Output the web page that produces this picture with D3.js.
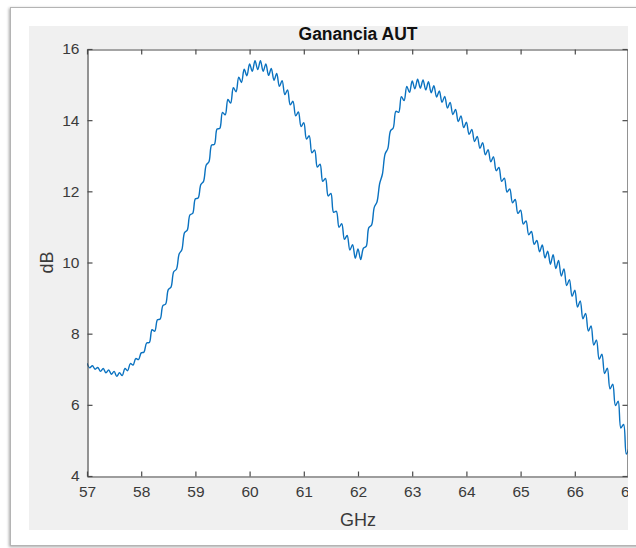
<!DOCTYPE html>
<html>
<head>
<meta charset="utf-8">
<script src="https://cdn.jsdelivr.net/npm/d3@7/dist/d3.min.js"></script>
<style>
  html, body { margin: 0; padding: 0; background: #ffffff; }
  svg { display: block; font-family: "Liberation Sans", Arial, Helvetica, sans-serif; }
</style>
</head>
<body>
<svg id="chart" width="636" height="548"></svg>
<script>
// Measured gain of the antenna under test, sampled every 0.05 GHz from 57 to 67 GHz
const freqStart = 57;
const freqStep = 0.05;
const gainDb = [
  7.17, 7.04, 7.10, 7.00, 7.05, 6.94, 7.02, 6.90, 6.98, 6.86,
  6.94, 6.80, 6.90, 6.82, 7.02, 6.96, 7.16, 7.12, 7.30, 7.27,
  7.46, 7.48, 7.74, 7.75, 8.11, 8.07, 8.39, 8.41, 8.79, 8.83,
  9.24, 9.31, 9.74, 9.81, 10.24, 10.36, 10.84, 10.91, 11.34, 11.38,
  11.79, 11.81, 12.19, 12.28, 12.74, 12.83, 13.30, 13.32, 13.75, 13.77,
  14.22, 14.15, 14.58, 14.48, 14.91, 14.80, 15.21, 15.06, 15.43, 15.25,
  15.58, 15.37, 15.67, 15.42, 15.67, 15.37, 15.58, 15.26, 15.45, 15.12,
  15.31, 14.95, 15.11, 14.72, 14.85, 14.43, 14.53, 14.12, 14.23, 13.82,
  13.93, 13.47, 13.56, 13.08, 13.16, 12.68, 12.76, 12.28, 12.36, 11.87,
  11.94, 11.41, 11.44, 10.99, 11.09, 10.65, 10.76, 10.35, 10.50, 10.12,
  10.38, 10.08, 10.40, 10.45, 10.98, 11.05, 11.55, 11.70, 12.22, 12.48,
  13.05, 13.20, 13.70, 13.78, 14.25, 14.22, 14.66, 14.55, 14.95, 14.78,
  15.10, 14.88, 15.15, 14.90, 15.13, 14.85, 15.08, 14.77, 14.97, 14.65,
  14.82, 14.50, 14.67, 14.34, 14.50, 14.16, 14.30, 13.96, 14.12, 13.79,
  13.94, 13.60, 13.74, 13.40, 13.54, 13.21, 13.37, 13.03, 13.17, 12.83,
  12.97, 12.58, 12.67, 12.28, 12.37, 11.98, 12.07, 11.68, 11.77, 11.38,
  11.47, 11.08, 11.17, 10.78, 10.87, 10.51, 10.62, 10.30, 10.49, 10.13,
  10.32, 9.95, 10.22, 9.83, 10.06, 9.62, 9.82, 9.35, 9.52, 9.05,
  9.22, 8.75, 8.92, 8.42, 8.57, 8.07, 8.22, 7.68, 7.82, 7.28,
  7.42, 6.88, 7.03, 6.45, 6.58, 5.98, 6.10, 5.35, 5.45, 4.62,
  4.80
];
const xTicks = [57, 58, 59, 60, 61, 62, 63, 64, 65, 66, 67];
const yTicks = [4, 6, 8, 10, 12, 14, 16];
const titleText = "Ganancia AUT";
const xLabelText = "GHz";
const yLabelText = "dB";

const data = gainDb.map((g, i) => ({ f: freqStart + i * freqStep, g }));

const svg = d3.select("#chart");
const defs = svg.append("defs");

// soft shadow around the figure window
const shadow = defs.append("filter").attr("id", "winShadow")
  .attr("x", "-5%").attr("y", "-5%").attr("width", "110%").attr("height", "110%");
shadow.append("feDropShadow").attr("dx", -1).attr("dy", 1)
  .attr("stdDeviation", 1.6).attr("flood-color", "#000").attr("flood-opacity", 0.35);

// figure window frame
svg.append("rect")
  .attr("x", 10.5).attr("y", 7.5).attr("width", 640).attr("height", 538)
  .attr("fill", "#ffffff").attr("stroke", "#b4b4b4").attr("stroke-width", 1)
  .attr("filter", "url(#winShadow)");

// figure background
const figX0 = 29, figX1 = 628, figY0 = 26, figY1 = 530;
defs.append("clipPath").attr("id", "figClip").append("rect")
  .attr("x", figX0).attr("y", figY0).attr("width", figX1 - figX0).attr("height", figY1 - figY0);

const fig = svg.append("g").attr("clip-path", "url(#figClip)");
fig.append("rect")
  .attr("x", figX0).attr("y", figY0).attr("width", figX1 - figX0).attr("height", figY1 - figY0)
  .attr("fill", "#f0f0f0");

// axes geometry
const plotLeft = 87, plotRight = 629, plotTop = 49, plotBottom = 476;
const x = d3.scaleLinear().domain([57, 67]).range([plotLeft, plotRight]);
const y = d3.scaleLinear().domain([4, 16]).range([plotBottom, plotTop]);

fig.append("rect")
  .attr("x", plotLeft).attr("y", plotTop)
  .attr("width", plotRight - plotLeft).attr("height", plotBottom - plotTop)
  .attr("fill", "#ffffff");

// data line
defs.append("clipPath").attr("id", "plotClip").append("rect")
  .attr("x", plotLeft).attr("y", plotTop)
  .attr("width", Math.min(plotRight, figX1) - plotLeft).attr("height", plotBottom - plotTop);

const line = d3.line()
  .x(d => x(d.f)).y(d => y(d.g))
  .curve(d3.curveCatmullRom.alpha(0.5));

fig.append("path")
  .datum(data)
  .attr("clip-path", "url(#plotClip)")
  .attr("fill", "none")
  .attr("stroke", "#0a72c0")
  .attr("stroke-width", 1.4)
  .attr("stroke-linejoin", "round")
  .attr("d", line);

// axes with inward ticks on all four sides
const axisColor = "#4a4a4a";
const textColor = "#3a3a3a";
const tickLen = 5;

const bottomAxis = d3.axisBottom(x).tickValues(xTicks).tickSizeInner(-tickLen).tickSizeOuter(0).tickPadding(9);
const topAxis = d3.axisTop(x).tickValues(xTicks).tickSizeInner(-tickLen).tickSizeOuter(0).tickFormat("");
const leftAxis = d3.axisLeft(y).tickValues(yTicks).tickSizeInner(-tickLen).tickSizeOuter(0).tickPadding(8);
const rightAxis = d3.axisRight(y).tickValues(yTicks).tickSizeInner(-tickLen).tickSizeOuter(0).tickFormat("");

function styleAxis(g) {
  g.select(".domain").attr("stroke", axisColor).attr("stroke-width", 1.2);
  g.selectAll(".tick line").attr("stroke", axisColor).attr("stroke-width", 1.2);
  g.selectAll(".tick text").attr("fill", textColor).attr("font-size", 15.5)
    .attr("font-family", "'Liberation Sans', Arial, Helvetica, sans-serif");
}

fig.append("g").attr("transform", `translate(0,${plotBottom + 0.5})`).call(bottomAxis).call(styleAxis);
fig.append("g").attr("transform", `translate(0,${plotTop + 0.5})`).call(topAxis).call(styleAxis);
fig.append("g").attr("transform", `translate(${plotLeft + 0.5},0)`).call(leftAxis).call(styleAxis);
fig.append("g").attr("transform", `translate(${figX1 - 0.5},0)`).call(rightAxis).call(styleAxis);

// title and axis labels
fig.append("text")
  .attr("x", (plotLeft + plotRight) / 2).attr("y", 40)
  .attr("text-anchor", "middle")
  .attr("font-size", 17.5).attr("font-weight", "bold").attr("fill", "#111")
  .text(titleText);

fig.append("text")
  .attr("x", (plotLeft + plotRight) / 2).attr("y", 526)
  .attr("text-anchor", "middle")
  .attr("font-size", 18).attr("fill", textColor)
  .text(xLabelText);

fig.append("text")
  .attr("transform", `translate(53,${(plotTop + plotBottom) / 2}) rotate(-90)`)
  .attr("text-anchor", "middle")
  .attr("font-size", 18).attr("fill", textColor)
  .text(yLabelText);
</script>
</body>
</html>
